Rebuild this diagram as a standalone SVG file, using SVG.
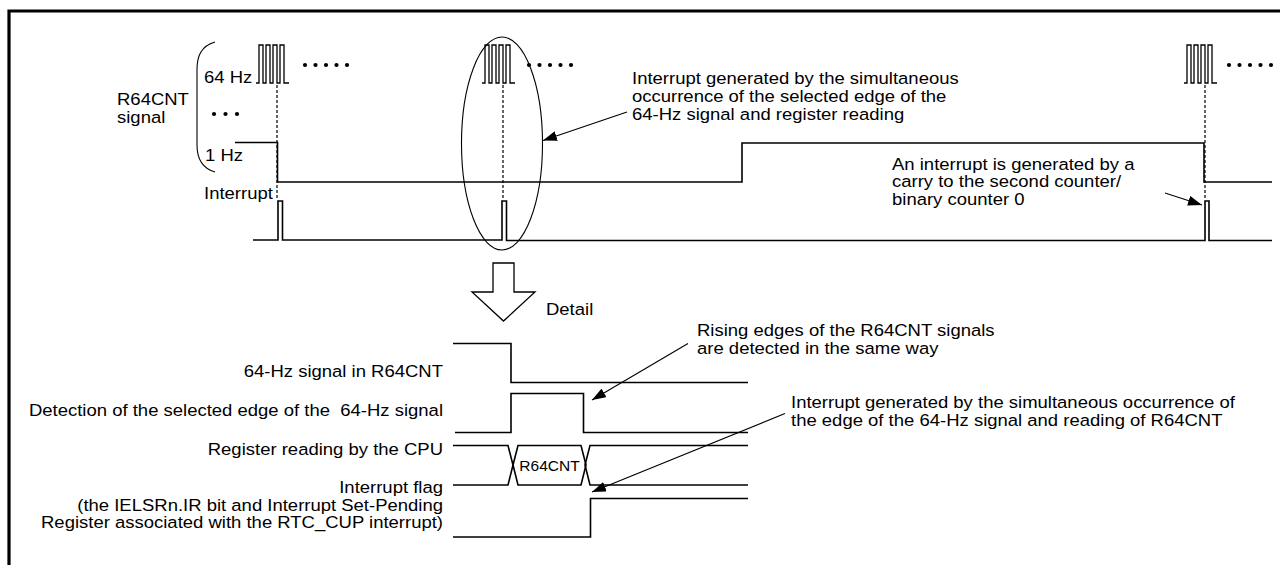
<svg xmlns="http://www.w3.org/2000/svg" width="1280" height="565" viewBox="0 0 1280 565">
<style>
text{font-family:"Liberation Sans",Arial,sans-serif;font-size:17px;fill:#000}
.sig{fill:none;stroke:#000;stroke-width:1.6}
.thin{fill:none;stroke:#000;stroke-width:1.1}
.dash{fill:none;stroke:#000;stroke-width:1.2;stroke-dasharray:3 2}
.lead{fill:none;stroke:#000;stroke-width:1.1}
.end{text-anchor:end}
</style>
<defs>
<path id="train" d="M256,83 H259 V45 H263 V83 H266 V45 H270 V83 H273 V45 H277 V83 H280 V45 H284 V83 H289" fill="none" stroke="#000" stroke-width="1.3"/>
<g id="dots5"><circle cx="0" cy="0" r="2.1"/><circle cx="10.5" cy="0" r="2.1"/><circle cx="21" cy="0" r="2.1"/><circle cx="31.5" cy="0" r="2.1"/><circle cx="42" cy="0" r="2.1"/></g>
<marker id="ah" viewBox="0 0 14 10" refX="14" refY="5" markerWidth="14" markerHeight="10" markerUnits="userSpaceOnUse" orient="auto"><path d="M0,0 L14,5 L0,10 Z" fill="#000"/></marker>
</defs>
<path d="M9,565 V11 H1280" fill="none" stroke="#000" stroke-width="3.2"/>

<g id="r64cnt-label">
<g transform="translate(117,0) scale(1.088,1)">
<text x="0" y="105">R64CNT</text>
<text x="0" y="123">signal</text>
</g>
<path class="thin" d="M215,42 C201,46 197,56 197,70 V145 C197,158 201,168 215,172"/>
<g transform="translate(204,0) scale(1.088,1)">
<text x="0" y="83">64 Hz</text>
<text x="1" y="161.5">1 Hz</text>
<text x="0" y="199.5">Interrupt</text>
</g>
<circle cx="214" cy="114" r="2.1"/><circle cx="225.5" cy="114" r="2.1"/><circle cx="237" cy="114" r="2.1"/>
</g>

<g id="waveforms-top">
<use href="#train"/>
<use href="#train" transform="translate(226,0)"/>
<use href="#train" transform="translate(928,0)"/>
<use href="#dots5" transform="translate(305,65)"/>
<use href="#dots5" transform="translate(529,65)"/>
<use href="#dots5" transform="translate(1229,65)"/>
<path class="sig" d="M235,142.5 H277.5 V182 H742 V143 H1204 V182 H1272"/>
<path class="sig" d="M253,240 H278 V201 H282.5 V240 H502 V201 H506.5 V240.5 H1205 V201 H1209 V240.5 H1272"/>
<path class="dash" d="M277,85 V200"/>
<path class="dash" d="M503,85 V200"/>
<path class="dash" d="M1205,85 V200"/>
<ellipse cx="502" cy="143.5" rx="40.5" ry="106.5" class="thin"/>
</g>

<g id="note-simultaneous" transform="translate(632,0) scale(1.088,1)">
<text x="0" y="84">Interrupt generated by the simultaneous</text>
<text x="0" y="102">occurrence of the selected edge of the</text>
<text x="0" y="120">64-Hz signal and register reading</text>
</g>
<g id="note-carry" transform="translate(892,0) scale(1.088,1)">
<text x="0" y="170">An interrupt is generated by a</text>
<text x="0" y="187.5">carry to the second counter/</text>
<text x="0" y="205">binary counter 0</text>
</g>

<g id="detail-arrow">
<path d="M493,263 H514 V292 H535 L503.5,321 L472,292 H493 Z" fill="#fff" stroke="#000" stroke-width="1.3"/>
<text x="546" y="315" transform="translate(546,0) scale(1.088,1) translate(-546,0)">Detail</text>
</g>

<g id="labels-bottom" transform="translate(443,0) scale(1.088,1)">
<text class="end" x="0" y="377">64-Hz signal in R64CNT</text>
<text class="end" x="0" y="416" xml:space="preserve">Detection of the selected edge of the  64-Hz signal</text>
<text class="end" x="0" y="455">Register reading by the CPU</text>
<text class="end" x="0" y="493.5">Interrupt flag</text>
<text class="end" x="0" y="511">(the IELSRn.IR bit and Interrupt Set-Pending</text>
<text class="end" x="0" y="528.5">Register associated with the RTC_CUP interrupt)</text>
</g>

<g id="waveforms-bottom">
<path class="sig" d="M453,343.5 H511 V382.5 H748"/>
<path class="sig" d="M455,432.5 H511 V393.5 H583.5 V432.5 H748"/>
<path class="sig" d="M453,445.5 H508 L513,465 L508,485 H453"/>
<path class="sig" d="M748,445.5 H590 L585,465 L590,485 H748"/>
<path class="sig" d="M513,465 L518,445.5 H581 L586,465 L581,485 H518 Z"/>
<text x="549.5" y="471" style="font-size:15.5px;text-anchor:middle">R64CNT</text>
<path class="sig" d="M453,537 H590.5 V498.5 H748"/>
</g>

<g id="note-rising" transform="translate(697,0) scale(1.088,1)">
<text x="0" y="336">Rising edges of the R64CNT signals</text>
<text x="0" y="354">are detected in the same way</text>
</g>
<g id="note-bottom" transform="translate(791,0) scale(1.088,1)">
<text x="0" y="408">Interrupt generated by the simultaneous occurrence of</text>
<text x="0" y="426">the edge of the 64-Hz signal and reading of R64CNT</text>
</g>

<g id="connectors">
<path class="lead" d="M627,112 L543,140.5" marker-end="url(#ah)"/>
<path class="lead" d="M1165,193 L1202,205" marker-end="url(#ah)"/>
<path class="lead" d="M688,343.5 L592,400" marker-end="url(#ah)"/>
<path class="lead" d="M785,413.5 L592,492" marker-end="url(#ah)"/>
</g>
</svg>
